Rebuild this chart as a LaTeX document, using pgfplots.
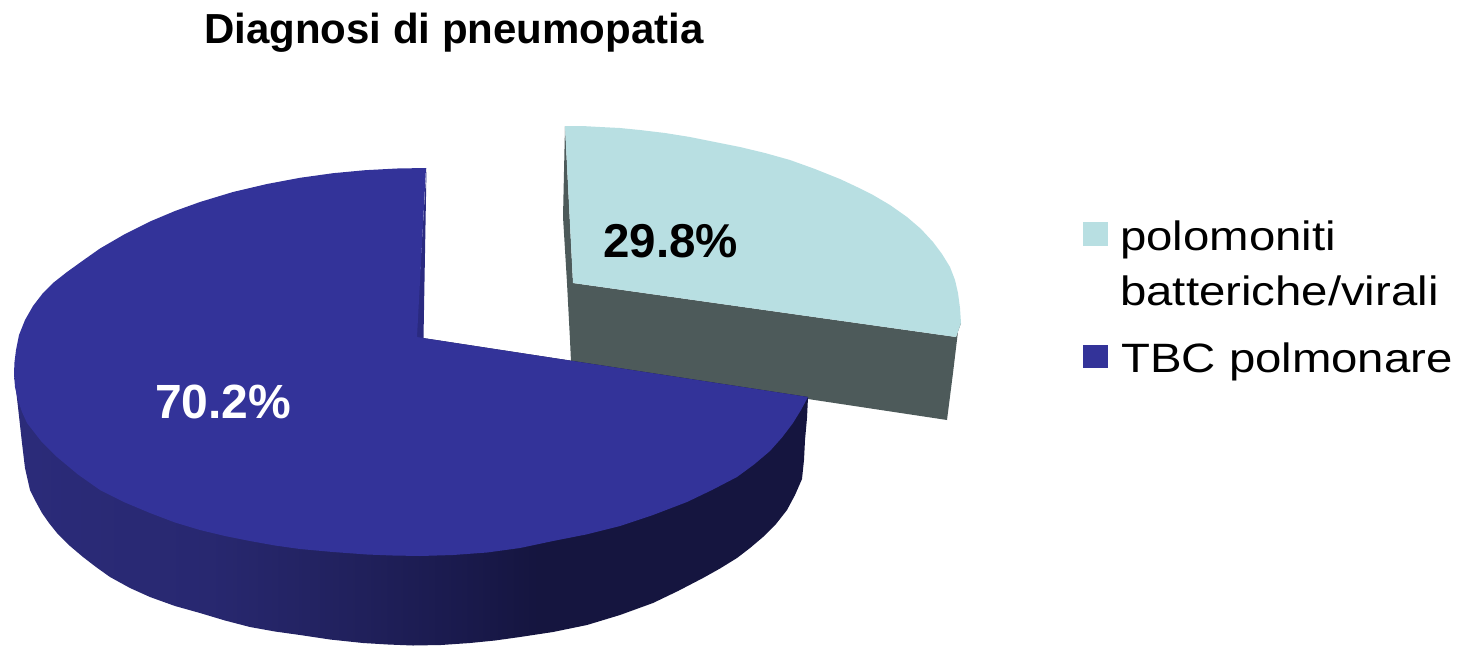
\documentclass[border=0pt]{standalone}
\usepackage{pgfplots}
\pgfplotsset{compat=1.18}
\usepackage{fontspec}
\setmainfont{Liberation Sans}
\definecolor{blueTop}{HTML}{333399}
\definecolor{blueEdge}{HTML}{2A2A80}
\definecolor{tealTop}{HTML}{B8DFE2}
\definecolor{tealWall}{HTML}{4D5A5A}
\pgfdeclarehorizontalshading{wallshade}{100bp}{%
 rgb(0bp)=(0.169,0.169,0.478);
 rgb(25bp)=(0.169,0.169,0.478);
 rgb(37bp)=(0.157,0.157,0.440);
 rgb(45bp)=(0.133,0.133,0.375);
 rgb(53bp)=(0.102,0.102,0.302);
 rgb(58bp)=(0.082,0.082,0.247);
 rgb(75bp)=(0.082,0.082,0.247);
 rgb(100bp)=(0.082,0.082,0.247)}
\newcommand{\legtext}[1]{\scalebox{1.155}[1]{#1}}
\begin{document}
\begin{tikzpicture}
\begin{axis}[
  scale only axis, width=1474pt, height=646pt,
  xmin=0, xmax=1474, ymin=0, ymax=646, y dir=reverse,
  hide axis, clip=false,
]
\path (axis cs:0,0) rectangle (axis cs:1474,646);
% teal wedge wall
\addplot[draw=none, fill=tealWall] coordinates {
 (565,126) (563,217) (567,283) (570,340) (571,362) (808,399) (947,420) (953,373) (959,323) (961,323) (956,337) (573,283)} --cycle;
% teal wedge top
\addplot[draw=none, fill=tealTop] coordinates {
 (565,126) (582,126) (600,127) (620,128) (640,130) (665,133) (690,137) (715,142) (740,147) (765,153) (790,160) (815,169) (840,179) (857,187) (873,195) (890,205) (907,217) (921,229) (933,242) (942,254) (950,267) (955,280) (958,293) (960,308) (961,323) (956,337) (573,283)} --cycle;
% blue wall
\addplot[draw=none, shading=wallshade] coordinates {
 (14,373) (16,390) (18,407) (20,425) (22,443) (25,468) (30,490) (36,502) (42,513) (49,523) (57,533) (70,546) (83,557) (96,567) (110,577) (130,588) (150,597) (175,606) (200,613) (225,620.5) (250,627) (275,631.5) (300,635) (330,639.5) (363,643) (388,644.5) (413,645.5) (441,645) (470,643) (495,640.5) (520,637) (553,632) (587,625) (620,615) (653,603) (678,591) (703,578) (720,568.5) (737,558) (750,548) (763,537) (776,524) (787,510) (795,495) (802,479) (804,460) (805,440) (807,418) (808,397) (423,338) (417,337)} --cycle;
% inner sliver
\addplot[draw=none, fill=blueEdge] coordinates {
 (426.5,168) (423.5,338) (416,338)} --cycle;
% blue top
\addplot[draw=none, fill=blueTop] coordinates {
 (426,168) (397,168.5) (365,170.2) (333,173.2) (300,177.8) (267,184) (233,192) (200,202) (175,211) (150,221.5) (125,234) (100,248.5) (83,260.5) (67,272) (53,283) (43,293) (33,306) (25,320) (19,335) (16,350) (14.5,362) (14,373) (15,387) (18,400) (22,412) (27,423) (41,441) (57,457) (78,474.5) (100,490) (125,502.5) (150,513) (175,522.5) (200,530) (225,536) (250,541) (275,545.5) (300,549) (333,552) (367,554.5) (393,555.5) (420,556) (453,555) (487,552.5) (520,548) (553,541) (586,534.5) (620,526) (653,515) (687,502) (712,490) (737,477) (754,464.5) (770,451) (782,437.5) (793,423) (801,410) (808,397) (423,338) (417,337)} --cycle;
% legend keys
\addplot[draw=none, fill=tealTop] coordinates {(1083,222) (1108,222) (1108,246) (1083,246)} --cycle;
\addplot[draw=none, fill=blueTop] coordinates {(1083,345) (1108,345) (1108,368) (1083,368)} --cycle;
% text
\node[anchor=base west, inner sep=0pt, font=\fontsize{41}{41}\selectfont] at (axis cs:1120,250) {\legtext{polomoniti}};
\node[anchor=base west, inner sep=0pt, font=\fontsize{41}{41}\selectfont] at (axis cs:1120,305) {\legtext{batteriche/virali}};
\node[anchor=base west, inner sep=0pt, font=\fontsize{41}{41}\selectfont] at (axis cs:1121,372) {\legtext{TBC polmonare}};
\node[anchor=base west, inner sep=0pt, font=\fontsize{48}{48}\selectfont\bfseries, text=white] at (axis cs:155,418) {70.2\%};
\node[anchor=base west, inner sep=0pt, font=\fontsize{47.5}{47.5}\selectfont\bfseries, text=black] at (axis cs:603,257) {29.8\%};
\node[anchor=base west, inner sep=0pt, font=\fontsize{42}{42}\selectfont\bfseries] at (axis cs:204,43) {Diagnosi di pneumopatia};
\end{axis}
\end{tikzpicture}
\end{document}
